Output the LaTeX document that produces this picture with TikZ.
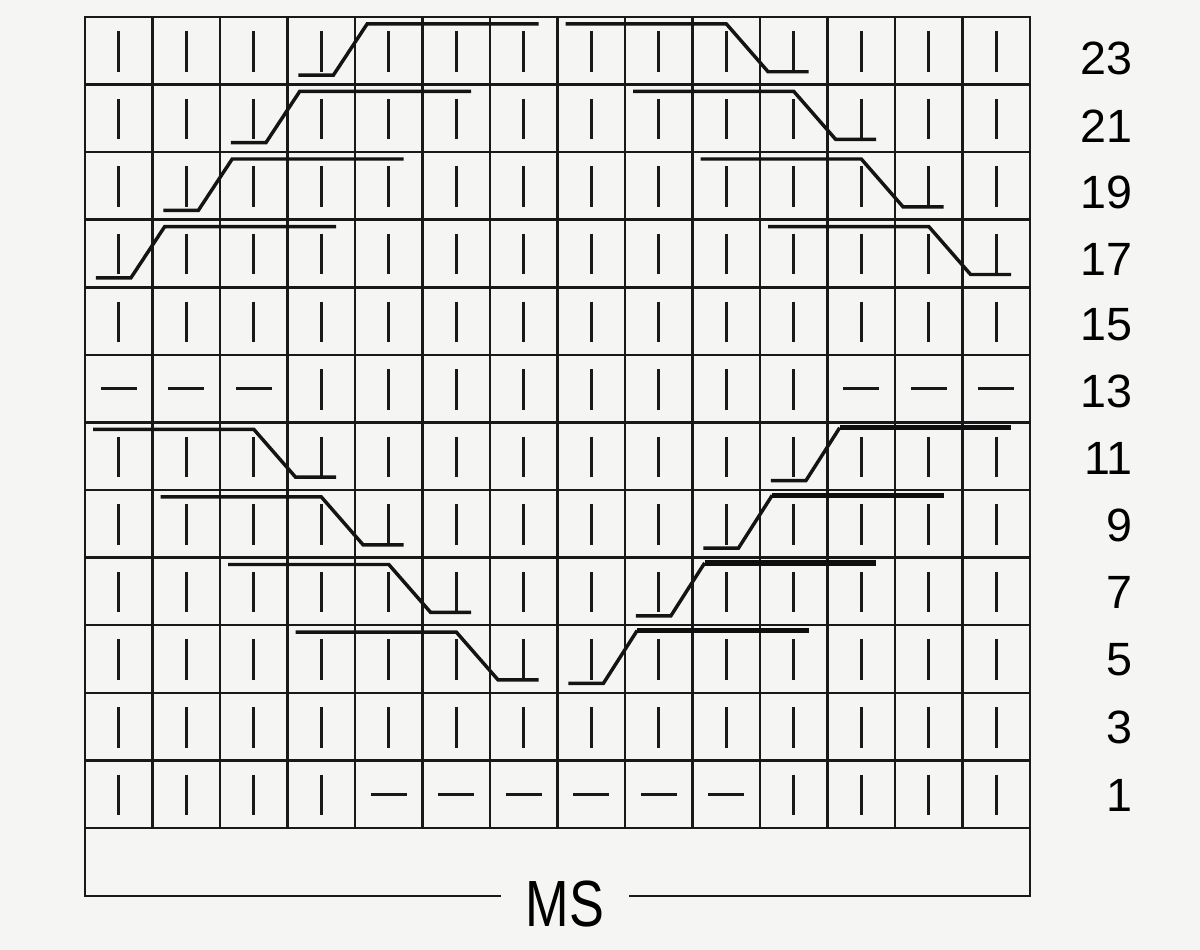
\documentclass[tikz,border=0pt]{standalone}
\usepackage{fontspec}
\setmainfont{Liberation Sans}

\tikzset{every picture/.style={line width=0.75pt}}
\tikzset{
  chartline/.style={color={rgb, 255:red, 25; green, 25; blue, 25}, line width=1.9pt, line cap=rect},
  knit/.style={color={rgb, 255:red, 25; green, 25; blue, 25}, line width=2.2pt},
  cable/.style={color={rgb, 255:red, 20; green, 20; blue, 20}, line width=2.6pt},
  cablebold/.style={color={rgb, 255:red, 15; green, 15; blue, 15}, line width=4pt},
  rowno/.style={anchor=east, inner sep=0pt, font=\fontsize{35}{40}\selectfont},
}

\begin{document}
\begin{tikzpicture}[x=0.75pt,y=0.75pt,yscale=-1,xscale=1]
\useasboundingbox (0,0) rectangle (1200,950);

%Shape: Paper
\fill [color={rgb, 255:red, 245; green, 245; blue, 243}] (0,0) rectangle (1200,950);

%Shape: Grid 14 x 12
\foreach \i in {0,...,14} \draw [chartline] (85+\i*67.5,17) -- (85+\i*67.5,828);
\foreach \j in {0,...,12} \draw [chartline] (85,17+\j*67.58) -- (1030,17+\j*67.58);

%Straight Lines: knit (bar) and purl (dash) stitches
\foreach \k in {1,...,12}
  \foreach \c in {1,...,14} {
    \pgfmathsetmacro{\xc}{85+(\c-0.5)*67.5}
    \pgfmathsetmacro{\yt}{828-\k*67.58}
    \pgfmathtruncatemacro{\purl}{((\k==1)&&(\c>4)&&(\c<11)) || ((\k==7)&&((\c<4)||(\c>11)))}
    \ifnum\purl=1
      \draw [knit] (\xc-18,\yt+33.8) -- (\xc+18,\yt+33.8);
    \else
      \draw [knit] (\xc,\yt+14.2) -- (\xc,\yt+54.7);
    \fi
  }

%Shape: cables falling to the right
\foreach \k/\s in {3/4,4/3,5/2,6/1,9/11,10/10,11/9,12/8} {
  \pgfmathsetmacro{\xa}{85+(\s-1)*67.5}
  \pgfmathsetmacro{\ya}{828-\k*67.58}
  \draw [cable] (\xa+8.1,\ya+6.8) -- (\xa+168.8,\ya+6.8) -- (\xa+210.6,\ya+54.7) -- (\xa+251.1,\ya+54.7);
}

%Shape: cables rising to the right, upper half
\foreach \k/\s in {9/1,10/2,11/3,12/4} {
  \pgfmathsetmacro{\xa}{85+(\s-1)*67.5}
  \pgfmathsetmacro{\ya}{828-\k*67.58}
  \draw [cable] (\xa+10.8,\ya+58.1) -- (\xa+45.9,\ya+58.1) -- (\xa+79.7,\ya+6.8) -- (\xa+251.1,\ya+6.8);
}

%Shape: cables rising to the right, lower half (heavy top line)
\foreach \k/\s in {3/8,4/9,5/10,6/11} {
  \pgfmathsetmacro{\xa}{85+(\s-1)*67.5}
  \pgfmathsetmacro{\ya}{828-\k*67.58}
  \draw [cable] (\xa+10.8,\ya+58.1) -- (\xa+45.9,\ya+58.1) -- (\xa+79.7,\ya+5.2);
  \draw [cablebold] (\xa+79.7,\ya+5.2) -- (\xa+251.1,\ya+5.2);
}

% Text Node
\node [inner xsep=24pt, inner ysep=0pt, xscale=0.8, font=\fontsize{49}{56}\selectfont] (ms) at (565,904) {MS};

%Shape: Boxed Line (bottom strip)
\coordinate (boxbl) at (85,896);
\coordinate (boxbr) at (1030,896);
\draw [chartline] (85,828) -- (boxbl) -- (ms.west |- boxbl);
\draw [chartline] (ms.east |- boxbr) -- (boxbr) -- (1030,828);

% Text Node
\node [rowno] (row23) at (1133,58.5) {23};
% Text Node
\node [rowno] (row21) at (1133,126) {21};
% Text Node
\node [rowno] (row19) at (1133,192) {19};
% Text Node
\node [rowno] (row17) at (1133,259) {17};
% Text Node
\node [rowno] (row15) at (1133,325) {15};
% Text Node
\node [rowno] (row13) at (1133,391) {13};
% Text Node
\node [rowno] (row11) at (1133,458) {11};
% Text Node
\node [rowno] (row9) at (1133,525) {9};
% Text Node
\node [rowno] (row7) at (1133,592) {7};
% Text Node
\node [rowno] (row5) at (1133,660) {5};
% Text Node
\node [rowno] (row3) at (1133,727) {3};
% Text Node
\node [rowno] (row1) at (1133,795) {1};

\end{tikzpicture}
\end{document}
